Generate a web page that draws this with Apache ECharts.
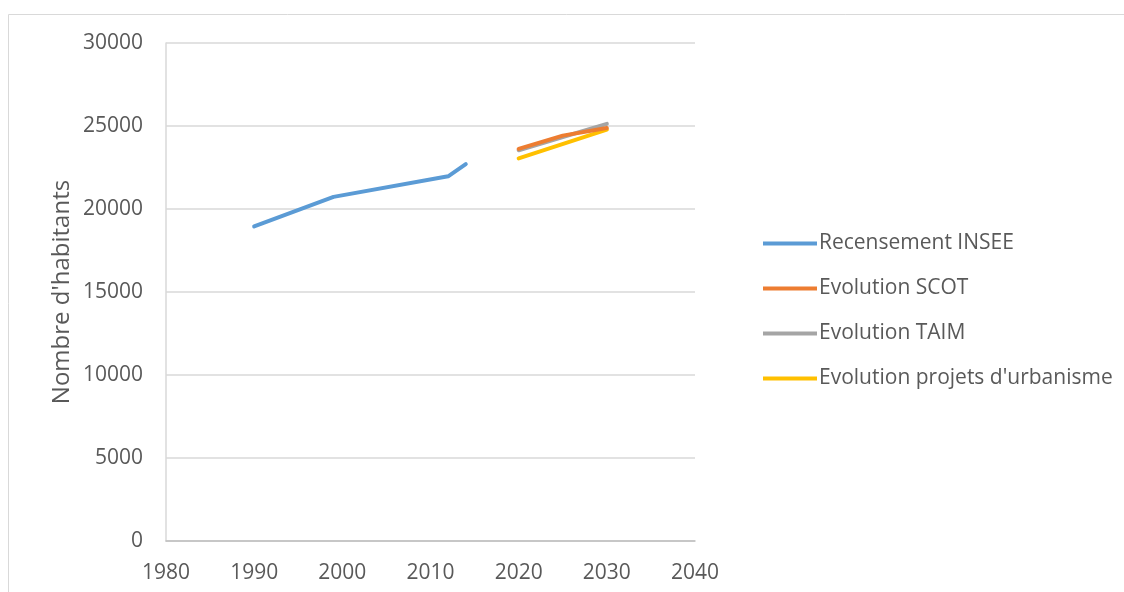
<!DOCTYPE html>
<html>
<head>
<meta charset="utf-8">
<script src="https://cdn.jsdelivr.net/npm/echarts@6/dist/echarts.min.js"></script>
<style>html,body{margin:0;padding:0;background:#fff}#c{width:1124px;height:592px}</style>
</head>
<body>
<div id="c"></div>
<script>
var seriesNames = ["Recensement INSEE", "Evolution SCOT", "Evolution TAIM", "Evolution projets d'urbanisme"];
var inseeYears = [1990, 1999, 2012, 2014];
var inseeValues = [18950, 20730, 21970, 22700];
var scotYears = [2020, 2025, 2030];
var scotValues = [23620, 24420, 24880];
var taimYears = [2020, 2030];
var taimValues = [23540, 25130];
var urbaYears = [2020, 2030];
var urbaValues = [23050, 24780];
var colors = ["#5B9BD5", "#ED7D31", "#A5A5A5", "#FFC000"];
var yAxisTitle = "Nombre d'habitants";

function pairs(xs, ys) { return xs.map(function (x, i) { return [x, ys[i]]; }); }

var font = "'Open Sans', 'Noto Sans', sans-serif";
var chart = echarts.init(document.getElementById('c'));
var allData = [pairs(inseeYears, inseeValues), pairs(scotYears, scotValues), pairs(taimYears, taimValues), pairs(urbaYears, urbaValues)];
chart.setOption({
  animation: false,
  color: colors,
  graphic: [{ type: 'rect', shape: { x: 8.5, y: 14.5, width: 1130, height: 600 }, style: { fill: 'none', stroke: '#D9D9D9', lineWidth: 1 } }],
  grid: { left: 166, top: 43, width: 529, height: 498 },
  legend: {
    orient: 'vertical', left: 758, top: 228, itemWidth: 54, itemHeight: 4, itemGap: 24,
    icon: 'rect',
    textStyle: { color: '#595959', fontSize: 21, fontFamily: font, padding: [0, 0, 0, -3] },
    data: seriesNames
  },
  xAxis: {
    type: 'value', min: 1980, max: 2040, interval: 10,
    axisLine: { show: true, lineStyle: { color: '#BFBFBF', width: 1.5 } },
    axisTick: { show: false },
    splitLine: { show: false },
    axisLabel: { color: '#595959', fontSize: 21, fontFamily: font, margin: 22, formatter: function (v) { return String(v); } }
  },
  yAxis: {
    type: 'value', min: 0, max: 30000, interval: 5000,
    name: yAxisTitle, nameLocation: 'middle', nameGap: 92,
    nameTextStyle: { color: '#595959', fontSize: 24, fontFamily: font },
    axisLine: { show: true, lineStyle: { color: '#D9D9D9', width: 1.5 } },
    axisTick: { show: false },
    splitLine: { lineStyle: { color: '#D9D9D9', width: 1.5 } },
    axisLabel: { color: '#595959', fontSize: 21, fontFamily: font, margin: 23, formatter: function (v) { return String(v); } }
  },
  series: seriesNames.map(function (n, i) {
    return { name: n, type: 'line', data: allData[i], showSymbol: false, symbol: 'none',
      lineStyle: { width: 4, color: colors[i], cap: 'round', join: 'round' }, z: i === 1 ? 3 : 2 };
  })
});
</script>
</body>
</html>
